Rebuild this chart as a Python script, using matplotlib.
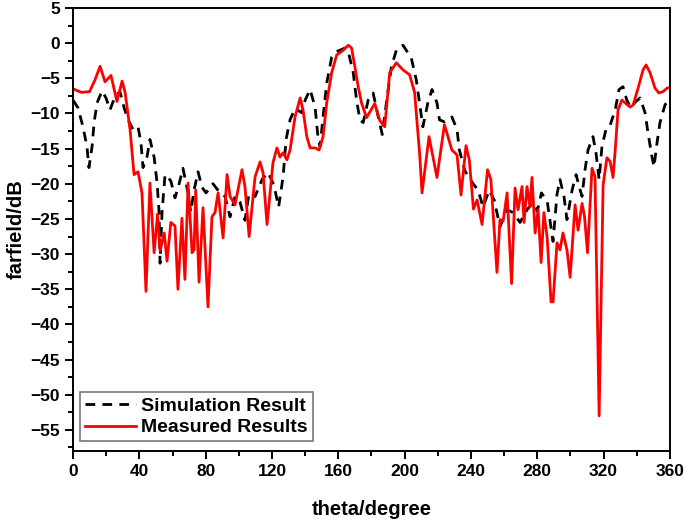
import matplotlib
matplotlib.use("Agg")
import matplotlib.pyplot as plt
from matplotlib.ticker import MultipleLocator

# measured far-field (red)
meas_theta = [
    0, 5, 10, 13.3, 16.3, 19.3, 22.9, 26.5, 29.6, 31.4, 34.4, 36.8, 39.2, 41.6,
    44, 46.4, 48.9, 51, 52.5, 55, 56.7, 59, 61.5, 63.3, 65.7, 67.5, 69.4, 71.8,
    73, 74, 76, 78.4, 81.4, 83.8, 85.6, 87.5, 90.5, 92.9, 94.7, 97.7, 101.9,
    103.7, 106.2, 109.8, 112.8, 114.6, 117, 120.6, 123, 124.8, 126.7, 129,
    130.9, 133.9, 137, 138.7, 141, 143, 146, 148.4, 150.8, 153, 156, 159, 163,
    166, 168, 170, 172, 174, 177, 180, 182, 185, 188, 191, 195, 199, 203, 206,
    209, 210.5, 214.7, 219.5, 224, 228.5, 231.6, 234, 237, 239, 241.5, 243.7,
    246.7, 250, 252, 253.5, 255.7, 257.5, 259.4, 261.8, 264.5, 266.6, 268.4,
    270.8, 272, 273.8, 275.6, 276.8, 278.7, 280.5, 282.3, 284, 285.9, 288.3,
    289.5, 291.9, 293.7, 295.5, 297.9, 299.8, 302.8, 304.6, 307, 308.5, 310.3,
    313, 314.8, 317.3, 319.7, 322, 323.9, 325.7, 327, 328.7, 331, 333, 336,
    337.8, 340.8, 343.8, 345.6, 348, 351, 353.4, 355.8, 358.3, 360,
]
meas_db = [
    -6.5, -7.0, -6.9, -5.2, -3.3, -5.5, -4.6, -8.3, -5.4, -7.0, -12.3, -18.7,
    -18.3, -21.3, -35.3, -19.9, -29.8, -24.3, -29.5, -27, -31, -25.5, -26, -35,
    -24.9, -33.6, -19.9, -29.8, -29.4, -20.9, -34, -23.4, -37.5, -24.7, -24.1,
    -21.3, -27.7, -18.7, -21.8, -23, -18, -20.4, -27.5, -19, -16.9, -18.4,
    -25.8, -17, -14.9, -16.2, -15.6, -16.6, -15.2, -10.5, -7.8, -9.5, -13.3,
    -14.9, -14.9, -15.2, -13.3, -8.5, -4.2, -1.7, -1.0, -0.3, -0.7, -3.4, -6.2,
    -8.5, -10.6, -9.4, -8.6, -11.0, -11.9, -4.2, -2.8, -3.8, -4.5, -7, -15.6,
    -21.3, -13.3, -19.1, -11.6, -15.2, -15.9, -21.6, -14.6, -16.6, -23.6,
    -22.3, -25.8, -18, -19.4, -24.7, -32.6, -25.1, -25.3, -21.3, -34.2, -20.6,
    -23.7, -20.4, -25.5, -20.4, -23.3, -19.1, -27, -23.7, -31.2, -24.1, -27.5,
    -36.8, -36.8, -28.4, -29.4, -27, -29.4, -33.3, -23, -26.6, -22.8, -24.7,
    -29.8, -17.8, -19, -53, -20.2, -16.3, -16.8, -19.1, -15.2, -9.5, -8.1,
    -8.5, -9.1, -8.8, -6.4, -3.8, -3.1, -4.2, -6.4, -7.1, -6.9, -6.4, -6.3,
]

# simulated far-field (black dashed)
sim_theta = [
    0, 3, 6, 8.4, 9.6, 11.5, 12.7, 14.5, 17.5, 19.9, 22.3, 25.3, 28.3, 30.8,
    33.2, 36.2, 39.2, 41, 42.2, 44.6, 46.4, 48.9, 50.7, 51.9, 52.5, 53.7, 55.5,
    57.3, 59, 61.5, 64, 66.3, 69.4, 71, 73, 75.4, 77.8, 80.2, 84.4, 88.7, 91.7,
    94.7, 97.7, 100.7, 103.7, 106.2, 109.8, 114, 117.6, 120.6, 121.8, 124,
    126.7, 128.5, 130.9, 133.9, 138, 140, 143, 146, 147.8, 149, 150.8, 153,
    156, 159, 164, 166, 169, 171, 173, 175, 178, 181, 184, 186.5, 189, 192,
    195, 199, 204, 207, 209, 211, 214, 216.5, 219.5, 221, 224, 228.5, 231.6,
    233, 236.4, 241.3, 244.3, 247.3, 251, 254, 257.5, 261.8, 265.4, 269.6,
    273.8, 277.4, 280, 282.5, 286, 289.5, 291.9, 293.7, 296.1, 297.9, 301,
    303.4, 305.5, 307, 308.8, 310.6, 313.6, 315.4, 317.3, 319, 321.5, 323.9,
    327, 329.3, 331.7, 334, 336.5, 339, 342, 345, 346.8, 349.2, 350.4, 352.2,
    354, 357, 360,
]
sim_db = [
    -8.1, -9.2, -11.9, -14.7, -17.7, -14.7, -11.3, -8.5, -6.8, -7.8, -9.5,
    -7.6, -6.9, -9.2, -10.9, -12.3, -11.9, -14.2, -17.7, -16.2, -13.7, -16.2,
    -19.9, -24, -31.3, -24, -18.7, -19.1, -19.6, -22, -20, -17.8, -21.3, -24,
    -20.9, -18.3, -20.5, -21.3, -20, -21.3, -21.8, -24.7, -21.8, -22.6, -25.2,
    -21.3, -21.8, -19.4, -18.4, -19.9, -20.9, -23.3, -19, -13.7, -10.9, -9.3,
    -9.9, -8.1, -6.6, -9.1, -13.5, -14.7, -10.5, -5.7, -2, -1.2, -0.7, -1.2,
    -4.2, -8.1, -10.9, -11.3, -8.1, -7.1, -10.4, -13, -8.5, -3.4, -1, -0.3,
    -2.1, -5.2, -8.5, -11.9, -8.5, -6.6, -8.5, -10.9, -11.2, -10.5, -12.3,
    -15.2, -18.2, -20, -20.9, -23.3, -20.9, -22.3, -26.1, -23.7, -24.1, -25.5,
    -23.7, -22.7, -23.9, -21.3, -22.5, -28.2, -21.5, -19.4, -21.8, -25.1,
    -20.9, -18.7, -20.6, -21.8, -18, -15.2, -13.3, -15.6, -19.4, -14.7, -12.2,
    -11.7, -9.5, -6.6, -6.2, -8.1, -9.2, -8.4, -7.8, -9.9, -12.8, -16.2,
    -17.6, -14.2, -11.3, -8.8, -7.8,
]

plt.rcParams["font.family"] = ["Liberation Sans", "DejaVu Sans"]
plt.rcParams["font.weight"] = "bold"

fig = plt.figure(figsize=(6.85, 5.2), dpi=100)
ax = fig.add_axes([0.1066, 0.1327, 0.8714, 0.852])

ax.plot(sim_theta, sim_db, color="black", lw=2.0, dashes=(3.5, 2.6),
        label="Simulation Result")
ax.plot(meas_theta, meas_db, color="#ff0000", lw=2.0, label="Measured Results")

ax.set_xlim(0, 360)
ax.set_ylim(-58, 5)
ax.xaxis.set_major_locator(MultipleLocator(40))
ax.xaxis.set_minor_locator(MultipleLocator(20))
ax.yaxis.set_major_locator(MultipleLocator(5))
ax.yaxis.set_minor_locator(MultipleLocator(2.5))
ax.tick_params(which="both", direction="out", width=1.4, top=False, right=False,
               labelsize=12.5)
ax.tick_params(which="major", length=6)
ax.tick_params(which="minor", length=3.5)
for lab in ax.get_xticklabels() + ax.get_yticklabels():
    lab.set_fontweight("bold")
for sp in ax.spines.values():
    sp.set_linewidth(1.4)

ax.set_xlabel("theta/degree", fontsize=14.5, fontweight="bold", labelpad=15)
ax.set_ylabel("farfield/dB", fontsize=14.5, fontweight="bold", labelpad=3)

leg = ax.legend(loc="lower left", bbox_to_anchor=(0.012, 0.022), fontsize=14,
                frameon=True, fancybox=False, handlelength=2.6,
                handletextpad=0.3, borderpad=0.25, labelspacing=0.2,
                borderaxespad=0)
leg.get_frame().set_edgecolor("#555555")
leg.get_frame().set_linewidth(1.2)
for t in leg.get_texts():
    t.set_fontweight("bold")

fig.savefig("out.png", dpi=100)
